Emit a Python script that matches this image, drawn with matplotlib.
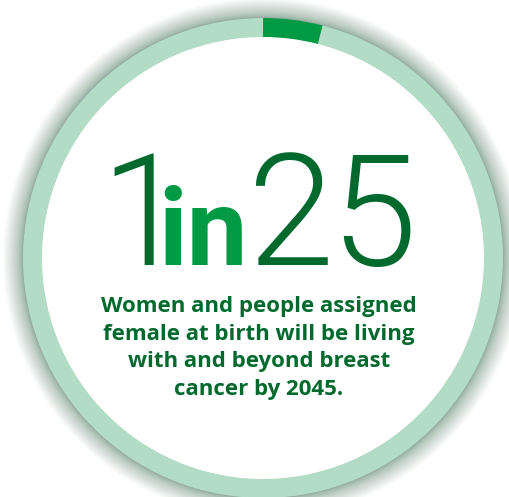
import matplotlib
matplotlib.use("Agg")
import matplotlib.pyplot as plt
from matplotlib.patches import Circle

# Share of the population: 1 in 25
highlight = [1]
remainder = [24]
big_left = "1"
big_mid = "in"
big_right = "25"
caption = ["Women and people assigned",
           "female at birth will be living",
           "with and beyond breast",
           "cancer by 2045."]

W, H = 509, 497
fig = plt.figure(figsize=(W / 100, H / 100), dpi=100)
ax = fig.add_axes([0, 0, 1, 1])

cx, cy = 263, 497 - 258
r_out, ring_w = 240, 19

ring_light = "#b3dcc6"
ring_dark = "#009a44"
text_dark = "#006a2e"
text_bright = "#009a44"

# soft shadow around the ring, densest right at its outer edge
n = 40
for k in range(n + 1):
    r = r_out + 20 * (k / n) ** 2
    ax.add_patch(Circle((cx, cy), r, facecolor="#44775a", edgecolor="none",
                        alpha=0.02, zorder=1))

ax.pie(highlight + remainder, colors=[ring_dark, ring_light], startangle=90,
       counterclock=False, radius=r_out, center=(cx, cy), frame=True,
       wedgeprops=dict(width=ring_w, edgecolor="none", linewidth=0, zorder=3))
ax.add_patch(Circle((cx, cy), r_out - ring_w + 0.5, facecolor="white",
                    edgecolor="none", zorder=2.5))

ax.set_xlim(0, W)
ax.set_ylim(0, H)
ax.set_aspect("equal")
ax.axis("off")

base = H - 265
big = dict(fontsize=112, family="Roboto", fontweight=300, color=text_dark,
           ha="left", va="baseline", zorder=5)
ax.text(100, base, big_left, **big)
ax.text(158, base, big_mid, fontsize=78, family="Roboto", fontweight="bold",
        color=text_bright, ha="left", va="baseline", zorder=5)
for ch, x in zip(big_right, [248, 330]):
    ax.text(x, base, ch, **big)

baselines = [312, 340, 367, 395]
for line, b in zip(caption, baselines):
    ax.text(cx - 4, H - b, line, fontsize=16, family="Open Sans", fontweight="bold",
            color=text_dark, ha="center", va="baseline", zorder=5)

fig.savefig("out.png", dpi=100, facecolor="white")
